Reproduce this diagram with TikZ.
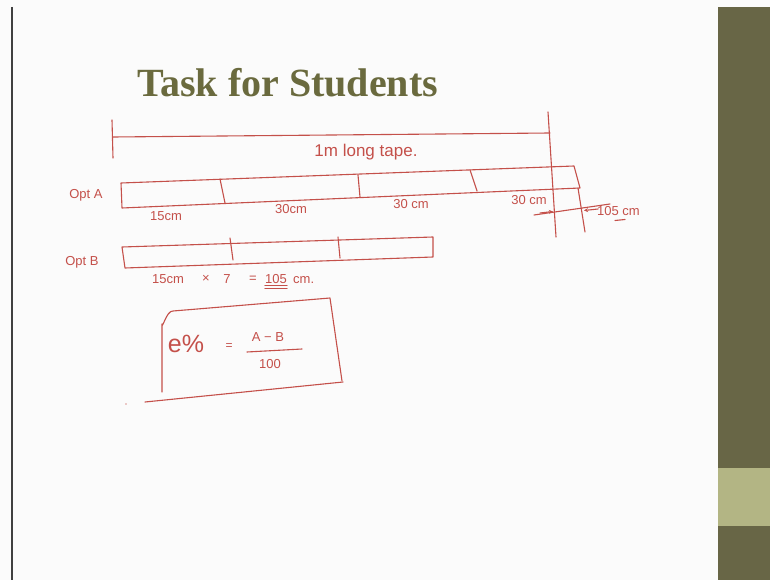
\documentclass[tikz,border=0pt]{standalone}
\usepackage{fontspec}
\usetikzlibrary{arrows.meta}
\setmainfont{Liberation Serif}
\newfontfamily\hand{Liberation Sans}
\definecolor{ink}{HTML}{C4504A}
\definecolor{barolive}{HTML}{686646}
\definecolor{barlight}{HTML}{B3B584}
\definecolor{titlec}{HTML}{6A6A3E}
\definecolor{paper}{HTML}{FBFBFB}
\begin{document}
\begin{tikzpicture}[x=1pt,y=-1pt,
  pen/.style={draw=ink, line width=1.1pt, line cap=round, line join=round},
  lbl/.style={text=ink, font=\hand\fontsize{13}{14}\selectfont, inner sep=0pt},
  arr/.style={pen, -{Stealth[length=4pt,width=4pt]}}]
\useasboundingbox (0,0) rectangle (770,580);
\fill[paper] (0,0) rectangle (770,580);
% side bars
\fill[barolive] (718,7) rectangle (770,580);
\fill[barlight] (718,468) rectangle (770,526);
\draw[line width=2pt, black!75] (11.5,7) -- (11.5,580);
% title
\node[text=titlec, font=\bfseries\fontsize{40}{44}\selectfont, anchor=base west, inner sep=0pt] (title) at (137,97) {Task for Students};
% 1 m tape
\coordinate (tickA) at (112,120);
\coordinate (tickB) at (113,158);
\coordinate (tapeL) at (113,137);
\coordinate (tapeR) at (550,133);
\coordinate (endT) at (548,112);
\coordinate (endB) at (556,237);
\draw[pen] (tickA) -- (tickB);
\draw[pen] (tapeL) -- (tapeR);
\draw[pen] (endT) -- (endB);
\node[lbl, font=\hand\fontsize{17}{18}\selectfont] (tape) at (366,152) {1m long tape.};
% Option A
\coordinate (a1) at (121,183);
\coordinate (a2) at (574,166);
\coordinate (a3) at (580,188);
\coordinate (a4) at (122,208);
\draw[pen] (a1) -- (a2) -- (a3) -- (a4) -- cycle;
\draw[pen] (220,179) -- (225,203);
\draw[pen] (358,175) -- (360,197);
\draw[pen] (470,170) -- (477,191);
\node[lbl] (optA) at (86,195) {Opt A};
\node[lbl] (l15) at (166,216) {15cm};
\node[lbl] (l30a) at (291,209) {30cm};
\node[lbl] (l30b) at (411,204) {30 cm};
\node[lbl] (l30c) at (529,200) {30 cm};
% excess marker
\coordinate (xL) at (534,215);
\coordinate (xR) at (610,204);
\coordinate (sT) at (578,188);
\coordinate (sB) at (585,232);
\draw[pen] (xL) -- (xR);
\draw[pen] (sT) -- (sB);
\draw[arr] (540,213) -- (553,211.5);
\draw[arr] (598,209) -- (584,210.5);
\node[lbl, anchor=west] (l105) at (597,211) {105 cm};
\draw[pen] (615,220.5) -- (625,219.5);
% Option B
\coordinate (b1) at (122,247);
\coordinate (b2) at (433,237);
\coordinate (b3) at (433,257);
\coordinate (b4) at (125,268);
\draw[pen] (b1) -- (b2) -- (b3) -- (b4) -- cycle;
\draw[pen] (230,238) -- (233,260);
\draw[pen] (338,237) -- (340,258);
\node[lbl] (optB) at (82,262) {Opt B};
\node[lbl, anchor=west] (calc) at (152,279) {15cm};
\node[lbl] (times) at (206,279) {×};
\node[lbl] (seven) at (227,279) {7};
\node[lbl] (eqB) at (253,279) {=};
\node[lbl] (n105) at (276,279) {105};
\node[lbl, anchor=west] (cmB) at (293,280) {cm.};
\draw[pen] ([yshift=-2pt]n105.south west) -- ([yshift=-2pt]n105.south east);
\draw[pen] ([yshift=-5pt]n105.south west) -- ([yshift=-5pt]n105.south east);
% formula box
\draw[pen] (162,392) -- (162,324) to[out=-90,in=175] (173,311) -- (330,298) -- (342,381);
\draw[pen] (145,402) -- (343,382);
\fill[ink!60] (126,404) circle (0.9pt);
\node[lbl, font=\hand\fontsize{25}{26}\selectfont] (epct) at (186,344) {e\%};
\node[lbl, font=\hand\fontsize{12}{12}\selectfont] (eq) at (229,347) {=};
\node[lbl] (num) at (268,337) {A − B};
\draw[pen] (247,352) -- (302,349);
\node[lbl] (den) at (270,364) {100};
\end{tikzpicture}
\end{document}
